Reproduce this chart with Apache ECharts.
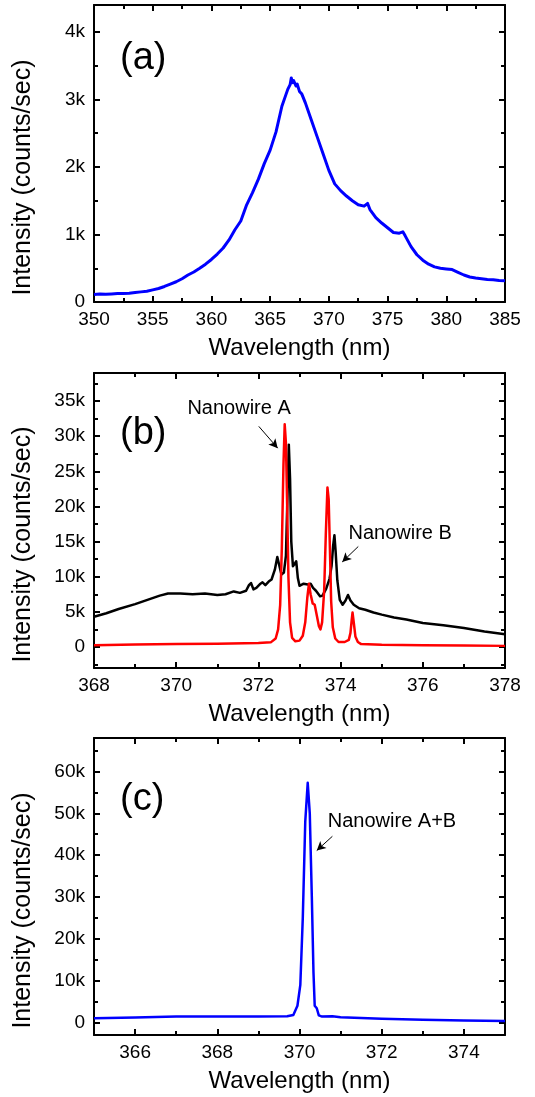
<!DOCTYPE html>
<html><head><meta charset="utf-8">
<script src="https://cdn.jsdelivr.net/npm/echarts@6/dist/echarts.min.js"></script>
<style>html,body{margin:0;padding:0;background:#fff}#c{width:535px;height:1097px}</style>
</head><body><div id="c"></div>
<script>
// ---------- Panel (a) ----------
const aWave = [350,350.5,351,351.5,352,352.5,353,353.5,354,354.5,355,355.5,356,356.5,357,357.5,358,358.5,359,359.5,360,360.5,361,361.5,362,362.5,363,363.5,364,364.5,365,365.5,366,366.3,366.5,366.7,366.8,366.9,367,367.2,367.3,367.5,367.7,368,368.5,369,369.5,370,370.5,371,371.5,372,372.5,373,373.3,373.5,374,374.5,375,375.5,376,376.3,376.5,377,377.5,378,378.5,379,379.5,380,380.5,381,381.5,382,382.5,383,383.5,384,384.5,385];
const aInt  = [110,120,115,120,125,125,130,140,150,160,180,200,230,265,300,345,400,445,500,560,630,710,800,920,1070,1200,1440,1620,1820,2050,2250,2520,2900,3050,3150,3220,3320,3250,3280,3200,3230,3120,3080,2950,2700,2450,2200,1950,1750,1650,1570,1500,1440,1420,1460,1370,1250,1170,1100,1030,1020,1040,980,820,700,620,560,520,500,490,480,440,400,370,355,345,335,330,320,315];
const aXTicks = [350,355,360,365,370,375,380,385];
const aXMinor = [352.5,357.5,362.5,367.5,372.5,377.5,382.5];
const aYTicks = [0,1000,2000,3000,4000];
const aYMinor = [500,1500,2500,3500];

// ---------- Panel (b) ----------
const bBlackWave = [368,368.3,368.6,369,369.3,369.6,369.8,370.1,370.4,370.7,371.0,371.2,371.4,371.55,371.7,371.77,371.82,371.88,371.95,372.05,372.1,372.17,372.25,372.32,372.4,372.46,372.5,372.56,372.62,372.67,372.71,372.74,372.77,372.8,372.84,372.88,372.92,372.96,373.0,373.1,373.2,373.27,373.33,373.4,373.5,373.56,373.65,373.73,373.78,373.82,373.85,373.88,373.92,373.98,374.05,374.12,374.18,374.24,374.32,374.45,374.6,374.8,375,375.3,375.6,376,376.5,377,377.5,378];
const bBlackInt  = [4300,4800,5400,6100,6700,7300,7600,7600,7500,7600,7400,7500,7900,7700,8000,8800,9100,8200,8400,9000,9200,8800,9300,9600,11000,12800,11800,10300,10600,13000,22000,28800,24000,15000,11500,11800,12200,9800,8700,9000,8900,9000,8400,8000,7200,7300,8300,9700,11500,14500,15900,13500,9500,6700,6000,6600,7400,6600,6000,5500,5300,4900,4600,4200,3900,3400,3100,2700,2200,1800];
const bRedWave = [368,369,370,371,372,372.3,372.42,372.48,372.53,372.57,372.61,372.64,372.67,372.7,372.73,372.77,372.82,372.9,373.0,373.08,373.14,373.19,373.23,373.27,373.32,373.37,373.42,373.47,373.51,373.55,373.6,373.64,373.68,373.71,373.74,373.77,373.81,373.87,373.95,374.1,374.2,374.24,374.27,374.29,374.32,374.36,374.42,374.5,375,376,377,378];
const bRedInt  = [250,350,420,450,550,650,1200,2500,6000,14000,26000,31700,29000,20000,10000,3500,1300,800,900,1600,3500,7000,9000,7500,6200,6000,4500,3000,2500,3500,8000,16000,22700,21000,14000,6500,2800,1200,700,700,1000,2000,3800,4900,3500,1500,700,400,300,250,200,150];
const bXTicks = [368,370,372,374,376,378];
const bXMinor = [369,371,373,375,377];
const bYTicks = [0,5000,10000,15000,20000,25000,30000,35000];
const bYMinor = [-2500,2500,7500,12500,17500,22500,27500,32500,37500];

// ---------- Panel (c) ----------
const cWave = [365,366,367,368,369,369.7,369.85,369.95,370.02,370.08,370.14,370.2,370.25,370.3,370.34,370.37,370.42,370.47,370.55,370.8,371,372,373,374,375];
const cInt  = [1000,1200,1450,1450,1450,1500,1800,4000,9000,25000,48000,57300,50000,30000,12000,4000,3400,1700,1400,1500,1250,900,650,450,350];
const cXTicks = [366,368,370,372,374];
const cXMinor = [367,369,371,373];
const cYTicks = [0,10000,20000,30000,40000,50000,60000];
const cYMinor = [5000,15000,25000,35000,45000,55000,65000];

// ---------- Labels ----------
const panelLabels = ['(a)','(b)','(c)'];
const xTitle = 'Wavelength (nm)';
const yTitle = 'Intensity (counts/sec)';
const annotB = [
  {text:'Nanowire A', at:[371.53,33900], from:[372.01,31400], to:[372.47,28300]},
  {text:'Nanowire B', at:[375.45,16100], from:[374.43,14300], to:[374.04,12100]}
];
const annotC = [
  {text:'Nanowire A+B', at:[372.25,48100], from:[370.80,44500], to:[370.42,41100]}
];

const FONT = 'Liberation Sans, Arial, sans-serif';
const kfmt = v => v === 0 ? '0' : (v/1000) + 'k';

const grids = [
  {left:94, right:30, top:5, height:297},
  {left:94, right:30, top:373, height:295},
  {left:94, right:30, top:738, height:297}
];
const ranges = [
  {x:[350,385], y:[0,4400], xt:aXTicks, xm:aXMinor, yt:aYTicks, ym:aYMinor},
  {x:[368,378], y:[-3000,39000], xt:bXTicks, xm:bXMinor, yt:bYTicks, ym:bYMinor},
  {x:[365,375], y:[-3000,68000], xt:cXTicks, xm:cXMinor, yt:cYTicks, ym:cYMinor}
];

const xAxes = [], yAxes = [];
function mk(dim, gi, min, max, pos, ticks, len, main, withLabels) {
  const a = {
    type:'value', gridIndex:gi, min:min, max:max, position:pos,
    splitLine:{show:false},
    axisLine:{show:main, onZero:false, lineStyle:{color:'#000', width:2}},
    axisTick:{show:true, inside:true, length:len, customValues:ticks, lineStyle:{color:'#000', width:2}},
    axisLabel:{show:withLabels, customValues:withLabels ? ticks : undefined, color:'#000', fontSize:19, fontFamily:FONT,
               formatter: dim==='y' ? kfmt : (v => String(v)), margin: dim==='y' ? 9 : 8},
    silent:true
  };
  if (withLabels) {
    a.name = dim==='x' ? xTitle : yTitle;
    a.nameLocation = 'middle';
    a.nameTextStyle = {color:'#000', fontSize: dim==='x' ? 24 : 25, fontFamily:FONT};
    if (dim==='x') { a.nameGap = 34; }
    else { a.nameGap = 58; a.nameRotate = 90; a.nameTextStyle.padding = [0,48,0,0]; }
  }
  return a;
}
ranges.forEach((r, gi) => {
  xAxes.push(mk('x', gi, r.x[0], r.x[1], 'bottom', r.xt, 6, true, true));
  xAxes.push(mk('x', gi, r.x[0], r.x[1], 'bottom', r.xm, 4, false, false));
  xAxes.push(mk('x', gi, r.x[0], r.x[1], 'top', r.xt, 6, true, false));
  xAxes.push(mk('x', gi, r.x[0], r.x[1], 'top', r.xm, 4, false, false));
  yAxes.push(mk('y', gi, r.y[0], r.y[1], 'left', r.yt, 6, true, true));
  yAxes.push(mk('y', gi, r.y[0], r.y[1], 'left', r.ym, 4, false, false));
  yAxes.push(mk('y', gi, r.y[0], r.y[1], 'right', r.yt, 6, true, false));
  yAxes.push(mk('y', gi, r.y[0], r.y[1], 'right', r.ym, 4, false, false));
});

const zip = (xs, ys) => xs.map((x, i) => [x, ys[i]]);

function annotations(list) {
  return {
    markLine: {
      silent:true, animation:false, symbol:['none','arrow'], symbolSize:[7,9],
      label:{show:false}, lineStyle:{color:'#000', width:1, type:'solid'},
      data: list.map(a => [{coord:a.from}, {coord:a.to}])
    },
    markPoint: {
      silent:true, animation:false, symbol:'rect', symbolSize:1, itemStyle:{color:'rgba(0,0,0,0)'},
      label:{show:true, position:'inside', color:'#000', fontSize:20, fontFamily:FONT,
             formatter: p => p.name},
      data: list.map(a => ({name:a.text, coord:a.at}))
    }
  };
}

function line(name, gi, data, color, width, extra) {
  return Object.assign({
    type:'line', name:name, xAxisIndex:gi*4, yAxisIndex:gi*4, data:data,
    showSymbol:false, symbol:'none', smooth:false, clip:true,
    lineStyle:{color:color, width:width, join:'round'}, itemStyle:{color:color}, silent:true
  }, extra || {});
}

const option = {
  animation:false,
  backgroundColor:'#fff',
  textStyle:{fontFamily:FONT},
  title: panelLabels.map((t, i) => ({
    text:t, left:120, top:[40,415,781][i], padding:0,
    textStyle:{fontSize:38, fontWeight:'normal', color:'#000', fontFamily:FONT}
  })),
  grid: grids,
  xAxis: xAxes,
  yAxis: yAxes,
  series: [
    line('(a)', 0, zip(aWave, aInt), '#0000ff', 3),
    line('(b) black', 1, zip(bBlackWave, bBlackInt), '#000000', 2.5),
    line('(b) red', 1, zip(bRedWave, bRedInt), '#ff0000', 2.5, annotations(annotB)),
    line('(c)', 2, zip(cWave, cInt), '#0000ff', 2.5, annotations(annotC))
  ]
};
const chart = echarts.init(document.getElementById('c'), null, {renderer:'canvas'});
chart.setOption(option);
</script>
</body></html>
